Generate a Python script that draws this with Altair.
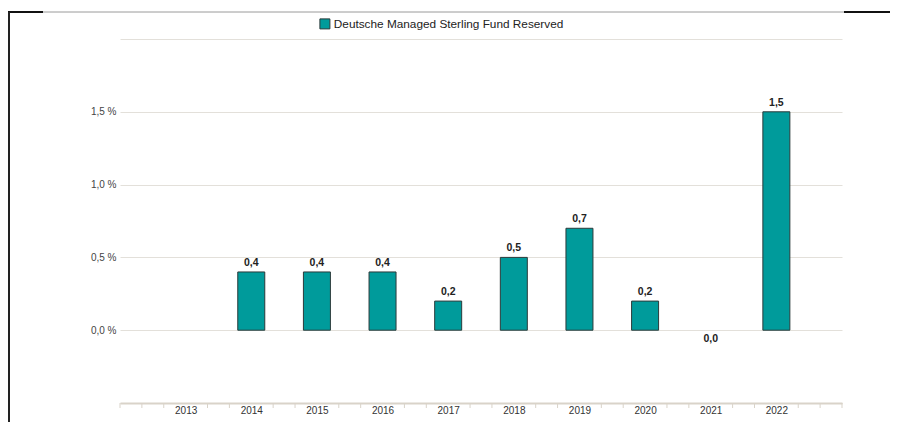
import altair as alt
import pandas as pd

years = [2013, 2014, 2015, 2016, 2017, 2018, 2019, 2020, 2021, 2022]
values = [None, 0.4, 0.4, 0.4, 0.2, 0.5, 0.7, 0.2, 0.0, 1.5]
series_name = "Deutsche Managed Sterling Fund Reserved"

y_ticks = [-0.5, 0.0, 0.5, 1.0, 1.5, 2.0]
minor_ticks = [round(2012 + i / 3, 4) for i in range(34) if i % 3 != 0] + [2012, 2023]

rows = []
for yr, v in zip(years, values):
    if v is None:
        continue
    rows.append({"year": yr, "value": v, "label": f"{v:.1f}".replace(".", ","), "series": series_name})
df = pd.DataFrame(rows)
ticks_df = pd.DataFrame({"t": minor_ticks})

FONT = "Liberation Sans"
TEAL = "#009b9b"

x_scale = alt.Scale(domain=[2012, 2023], nice=False, zero=False, padding=0)

x_enc = alt.X(
    "year:Q",
    scale=x_scale,
    axis=alt.Axis(
        values=years,
        title=None,
        grid=False,
        domainColor="#d9d3c9",
        domainWidth=2,
        ticks=False,
        labelExpr="format(datum.value, 'd')",
        labelFont=FONT,
        labelFontSize=10,
        labelColor="#333333",
        labelPadding=2,
        labelFlush=False,
        labelOverlap=False,
    ),
)

y_scale = alt.Scale(domain=[-0.5, 2.0], nice=False, zero=False)

base = alt.Chart(df)

bars = base.transform_filter("datum.value > 0").mark_bar(
    size=27, color=TEAL, stroke="#2b3a3a", strokeWidth=1
).encode(
    x=x_enc,
    y=alt.Y(
        "value:Q",
        scale=y_scale,
        axis=alt.Axis(
            values=y_ticks,
            title=None,
            domain=False,
            ticks=False,
            gridColor="#e3e0da",
            gridWidth=1,
            labelExpr="(datum.value >= 0 && datum.value <= 1.5) ? replace(format(datum.value, '.1f'), '.', ',') + ' %' : ''",
            labelFont=FONT,
            labelFontSize=10,
            labelColor="#444444",
            labelPadding=4,
        ),
    ),
    y2=alt.datum(0),
    color=alt.Color(
        "series:N",
        scale=alt.Scale(domain=[series_name], range=[TEAL]),
        legend=alt.Legend(
            orient="none",
            legendX=199,
            legendY=-21,
            title=None,
            symbolType="square",
            symbolSize=100,
            symbolStrokeColor="#2b3a3a",
            symbolStrokeWidth=1,
            labelFont=FONT,
            labelFontSize=11.8,
            labelColor="#222222",
            labelOffset=3,
            labelLimit=600,
        ),
    ),
)

minor = alt.Chart(ticks_df).mark_rule(color="#d9d3c9", strokeWidth=1).encode(
    x=alt.X("t:Q", scale=x_scale),
    y=alt.value(364),
    y2=alt.value(369),
)

labels_pos = base.transform_filter("datum.value > 0").mark_text(
    baseline="bottom", dy=-4, font=FONT, fontSize=10.5, color="#222222", fontWeight="bold"
).encode(x=alt.X("year:Q", scale=x_scale), y=alt.Y("value:Q", scale=y_scale), text="label:N")

labels_zero = base.transform_filter("datum.value == 0").mark_text(
    baseline="top", dy=4, font=FONT, fontSize=10.5, color="#222222", fontWeight="bold"
).encode(x=alt.X("year:Q", scale=x_scale), y=alt.Y("value:Q", scale=y_scale), text="label:N")

# frame decoration
deco = alt.Chart(pd.DataFrame({"k": [0]}))
top_gray = deco.mark_rule(color="#9a9a9a", strokeWidth=1).encode(
    x=alt.value(-112), x2=alt.value(770), y=alt.value(-27)
)
top_left = deco.mark_rule(color="#111111", strokeWidth=2).encode(
    x=alt.value(-112), x2=alt.value(-77), y=alt.value(-27)
)
top_right = deco.mark_rule(color="#111111", strokeWidth=2).encode(
    x=alt.value(724), x2=alt.value(770), y=alt.value(-27)
)
left_line = deco.mark_rule(color="#222222", strokeWidth=2).encode(
    x=alt.value(-111), y=alt.value(-27), y2=alt.value(383)
)

chart = alt.layer(bars, minor, labels_pos, labels_zero, top_gray, top_left, top_right, left_line).properties(
    width=722,
    height=364,
    padding={"left": 112, "top": 31, "right": 48, "bottom": 19},
    autosize=alt.AutoSizeParams(type="none"),
    background="white",
).configure_view(stroke=None)

chart.save("out.html", embed_options={"renderer": "svg", "actions": False})
